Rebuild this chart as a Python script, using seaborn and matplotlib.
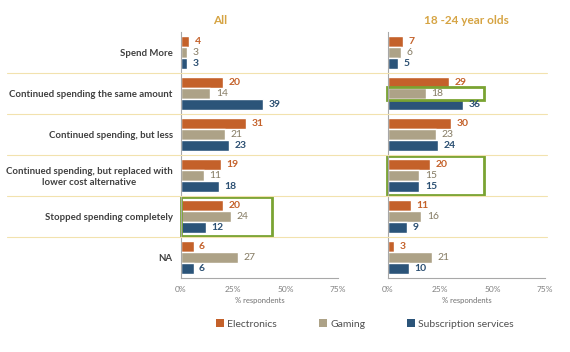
import matplotlib
matplotlib.use("Agg")
import matplotlib.pyplot as plt
from matplotlib.patches import Rectangle, Patch
from matplotlib.lines import Line2D
import pandas as pd
import seaborn as sns

categories = ["Spend More", "Continued spending the same amount", "Continued spending, but less",
              "Continued spending, but replaced with\nlower cost alternative",
              "Stopped spending completely", "NA"]
series = ["Electronics", "Gaming", "Subscription services"]
panels = ["All", "18 -24 year olds"]

all_electronics = [4, 20, 31, 19, 20, 6]
all_gaming = [3, 14, 21, 11, 24, 27]
all_subscription = [3, 39, 23, 18, 12, 6]

young_electronics = [7, 29, 30, 20, 11, 3]
young_gaming = [6, 18, 23, 15, 16, 21]
young_subscription = [5, 36, 24, 15, 9, 10]

xticks = [0, 25, 50, 75]
xticklabels = ["0%", "25%", "50%", "75%"]

colors = ["#C4612A", "#ADA287", "#2B5479"]
label_colors = ["#C4612A", "#857B63", "#2B4F72"]
title_color = "#D6A443"
green = "#7AA332"

def long_df(e, g, s):
    rows = []
    for name, vals in zip(series, [e, g, s]):
        for c, v in zip(categories, vals):
            rows.append({"category": c, "series": name, "value": v})
    return pd.DataFrame(rows)

data = [long_df(all_electronics, all_gaming, all_subscription),
        long_df(young_electronics, young_gaming, young_subscription)]

sns.set_style("white")
plt.rcParams["font.family"] = ["Lato", "DejaVu Sans"]

fig = plt.figure(figsize=(5.7, 3.52), dpi=100)
ax1 = fig.add_axes([181 / 570, 1 - 278 / 352, 157 / 570, 246 / 352])
ax2 = fig.add_axes([388 / 570, 1 - 278 / 352, 157 / 570, 246 / 352])

for ax, df, title in zip([ax1, ax2], data, panels):
    sns.barplot(data=df, y="category", x="value", hue="series", order=categories,
                hue_order=series, palette=colors, orient="h", width=0.8, gap=0.05,
                ax=ax, legend=False, saturation=1)
    for cont, lc, w in zip(ax.containers, label_colors, ["bold", "normal", "bold"]):
        ax.bar_label(cont, fmt="%d", padding=4, color=lc, fontsize=7.5, fontweight=w)
    ax.set_xlim(0, 75)
    ax.set_xticks(xticks)
    ax.set_xticklabels(xticklabels, fontsize=6, color="#808080")
    ax.tick_params(axis="x", length=3, direction="in", color="#A0A0A0", pad=6)
    ax.set_xlabel("% respondents", fontsize=5.5, color="#707070", labelpad=3)
    ax.set_ylabel("")
    for s in ["top", "right"]:
        ax.spines[s].set_visible(False)
    for s in ["left", "bottom"]:
        ax.spines[s].set_color("#A8A8A8")
        ax.spines[s].set_linewidth(0.8)
    ax.tick_params(axis="y", length=0)
    ax.set_title(title, color=title_color, fontsize=8.5, fontweight="bold", pad=6)

ax1.set_yticks(range(len(categories)))
ax1.set_yticklabels(categories, fontsize=6.9, fontweight="bold", color="#404040",
                    multialignment="center")
ax1.tick_params(axis="y", pad=6)
ax2.set_yticklabels([])
ax1.title.set_position((0.25, 1))

# separators between categories, across the whole figure
for i in range(1, len(categories)):
    y_disp = ax1.transData.transform((0, i - 0.5))[1]
    y_fig = fig.transFigure.inverted().transform((0, y_disp))[1]
    fig.add_artist(Line2D([7 / 570, 547 / 570], [y_fig, y_fig], color="#F2E2AE", lw=0.8))

# highlight boxes
box_kw = dict(fill=False, edgecolor=green, lw=2, clip_on=False)
ax1.add_patch(Rectangle((-0.2, 3.53), 43.5, 0.94, **box_kw))
ax2.add_patch(Rectangle((-0.6, 0.85), 46.5, 0.3, **box_kw))
ax2.add_patch(Rectangle((-0.6, 2.53), 46.5, 0.94, **box_kw))

handles = [Patch(facecolor=c, edgecolor="none") for c in colors]
fig.legend(handles, series, loc="center", bbox_to_anchor=(0.64, 1 - 324 / 352), ncol=3,
           frameon=False, fontsize=7.5, handlelength=0.8, handleheight=0.8, handletextpad=0.3,
           columnspacing=4.0, labelcolor="#505050")

fig.savefig("out.png", dpi=100)
